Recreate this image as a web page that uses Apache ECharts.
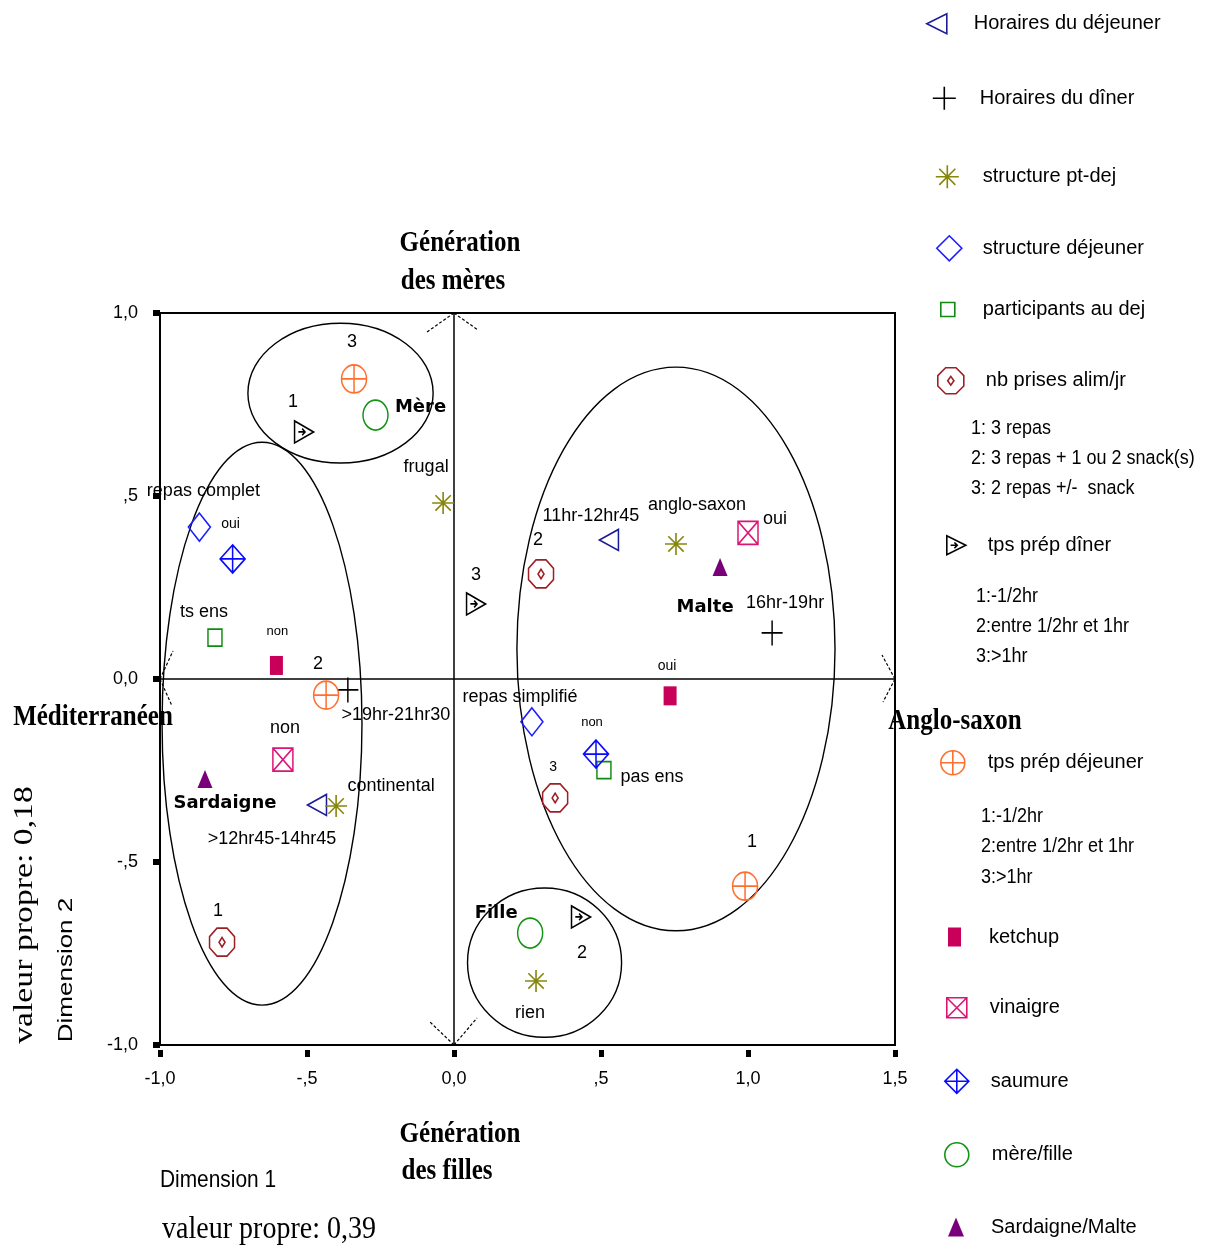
<!DOCTYPE html>
<html><head><meta charset="utf-8">
<script src="https://cdn.jsdelivr.net/npm/echarts@6.0.0/dist/echarts.min.js"></script>
<style>html,body{margin:0;padding:0;background:#fff}#c{width:1220px;height:1250px}</style>
</head><body><div id="c"></div>
<script>
// ---- tick labels ----
const xTickValues = [-1, -0.5, 0, 0.5, 1, 1.5];
const xTickLabels = ['-1,0', '-,5', '0,0', ',5', '1,0', '1,5'];
const yTickValues = [-1, -0.5, 0, 0.5, 1];
const yTickLabels = ['-1,0', '-,5', '0,0', ',5', '1,0'];

// ---- category coordinates: [label, dimension 1, dimension 2] ----
const horairesDejeuner = [['11hr-12hr45', 0.527, 0.380], ['>12hr45-14hr45', -0.466, -0.344]];
const horairesDiner = [['16hr-19hr', 1.082, 0.126], ['>19hr-21hr30', -0.361, -0.030]];
const structurePtDej = [['frugal', -0.037, 0.481], ['anglo-saxon', 0.755, 0.369], ['continental', -0.401, -0.347], ['rien', 0.279, -0.825]];
const structureDejeuner = [['repas complet', -0.866, 0.415], ['repas simplifié', 0.265, -0.117]];
const participantsDej = [['ts ens', -0.813, 0.113], ['pas ens', 0.510, -0.249]];
const nbPrises = [['1', -0.789, -0.719], ['2', 0.296, 0.287], ['3', 0.344, -0.325]];
const tpsPrepDiner = [['1', -0.510, 0.675], ['3', 0.075, 0.205], ['2', 0.432, -0.650]];
const tpsPrepDejeuner = [['3', -0.340, 0.820], ['2', -0.435, -0.044], ['1', 0.990, -0.566]];
const ketchup = [['non', -0.604, 0.037], ['oui', 0.735, -0.046]];
const vinaigre = [['non', -0.582, -0.220], ['oui', 1.000, 0.399]];
const saumure = [['oui', -0.753, 0.328], ['non', 0.483, -0.205]];
const mereFille = [['Mère', -0.267, 0.721], ['Fille', 0.259, -0.694]];
const sardaigneMalte = [['Sardaigne', -0.847, -0.273], ['Malte', 0.905, 0.306]];
// group ellipses: [centre dim1, centre dim2, radius dim1, radius dim2]
const groupEllipses = [[-0.386, 0.781, 0.315, 0.191], [-0.653, -0.122, 0.340, 0.769], [0.755, 0.082, 0.541, 0.770], [0.308, -0.775, 0.262, 0.204]];
// legend notes
const nbPrisesNotes = ['1: 3 repas', '2: 3 repas + 1 ou 2 snack(s)', '3: 2 repas +/-  snack'];
const tpsPrepNotes = ['1:-1/2hr', '2:entre 1/2hr et 1hr', '3:>1hr'];

// ---- styles / layout ----
const SANS = '"Liberation Sans", Arial, sans-serif';
const SERIF = '"Liberation Serif", "Times New Roman", serif';
const BOLDF = '"DejaVu Sans", sans-serif';
const SYM = {
  triLeft: 'path://M0,5L10,0L10,10Z',
  plus: 'path://M0,5L10,5M5,0L5,10',
  aster: 'path://M5,0L5,10M0,5L10,5M1.5,1.5L8.5,8.5M8.5,1.5L1.5,8.5',
  diamond: 'path://M5,0L10,5L5,10L0,5Z',
  square: 'path://M0,0L10,0L10,10L0,10Z',
  octDiamond: 'path://M3,0L7,0L10,3L10,7L7,10L3,10L0,7L0,3Z M5,3.3L6.2,5L5,6.7L3.8,5Z',
  triRight: 'path://M0,0L0,10L10,5Z M2,5L5.5,5 M4,3.5L5.5,5L4,6.5',
  circleCross: 'path://M0,5A5,5,0,1,1,10,5A5,5,0,1,1,0,5Z M0,5L10,5M5,0L5,10',
  squareX: 'path://M0,0L10,0L10,10L0,10Z M0,0L10,10M10,0L0,10',
  diamondCross: 'path://M5,0L10,5L5,10L0,5Z M0,5L10,5M5,0L5,10',
  ellipse: 'path://M0,5A5,5,0,1,1,10,5A5,5,0,1,1,0,5Z'
};
const seriesDefs = [
  {name: 'Horaires du déjeuner', data: horairesDejeuner, symbol: SYM.triLeft, size: [19, 21], lsize: [20, 24], color: '#1c1c9a', outline: true, legend: [936, 25, 973]},
  {name: 'Horaires du dîner', data: horairesDiner, symbol: SYM.plus, size: [21, 25], lsize: [23, 24], color: '#000000', outline: true, legend: [943.5, 98, 979]},
  {name: 'structure pt-dej', data: structurePtDej, symbol: SYM.aster, size: [22, 22], lsize: [23, 25], color: '#86860c', outline: true, legend: [946.5, 177, 982]},
  {name: 'structure déjeuner', data: structureDejeuner, symbol: SYM.diamond, size: [22, 28], lsize: [25, 28], color: '#1e1eff', outline: true, legend: [948.5, 249, 982]},
  {name: 'participants au dej', data: participantsDej, symbol: SYM.square, size: [14, 17], lsize: [14, 17], color: '#118a11', outline: true, legend: [947, 308, 982]},
  {name: 'nb prises alim/jr', data: nbPrises, symbol: SYM.octDiamond, size: [25, 28], lsize: [26, 30], color: '#9c2024', outline: true, legend: [950, 382, 985]},
  {name: 'tps prép dîner', data: tpsPrepDiner, symbol: SYM.triRight, size: [19, 22], lsize: [19, 22], color: '#000000', outline: true, legend: [955.5, 546, 987]},
  {name: 'tps prép déjeuner', data: tpsPrepDejeuner, symbol: SYM.circleCross, size: [25, 28], lsize: [24, 31], color: '#ff7030', outline: true, legend: [952, 765.5, 987]},
  {name: 'ketchup', data: ketchup, symbol: 'rect', size: [13, 19], lsize: [13, 19], color: '#c8005a', outline: false, legend: [954.5, 936.5, 989]},
  {name: 'vinaigre', data: vinaigre, symbol: SYM.squareX, size: [20, 23], lsize: [20, 22], color: '#dc1476', outline: true, legend: [956, 1008, 989]},
  {name: 'saumure', data: saumure, symbol: SYM.diamondCross, size: [25, 28], lsize: [24, 29], color: '#0a0aff', outline: true, legend: [956, 1083, 990]},
  {name: 'mère/fille', data: mereFille, symbol: SYM.ellipse, size: [25, 30], lsize: [24, 26], color: '#149414', outline: true, legend: [956, 1155, 991], bold: true},
  {name: 'Sardaigne/Malte', data: sardaigneMalte, symbol: 'triangle', size: [15, 18], lsize: [16, 19], color: '#7a007a', outline: false, legend: [956, 1226.5, 991], bold: true}
];
// label offsets (px from marker centre) and optional font size
const labelLayout = {
  'Horaires du déjeuner': [[-18, -24], [-45, 34]],
  'Horaires du dîner': [[13, -30], [48, 25]],
  'structure pt-dej': [[-17, -36], [21, -39], [55, -20], [-6, 32]],
  'structure déjeuner': [[4, -36], [-12, -25]],
  'participants au dej': [[-11, -26], [48, 7]],
  'nb prises alim/jr': [[-4, -31], [-3, -34], [-2, -31, 14]],
  'tps prép dîner': [[-11, -30], [0, -29], [1, 36]],
  'tps prép déjeuner': [[-2, -37], [-8, -31], [7, -44]],
  'ketchup': [[1, -34, 13], [-3, -30, 14]],
  'vinaigre': [[2, -31], [27, -14]],
  'saumure': [[-2, -35, 14], [-4, -32, 13]],
  'mère/fille': [[45, -8], [-34, -20]],
  'Sardaigne/Malte': [[20, 24], [-15, 40]]
};

function tickFmt(values, labels) {
  return v => { const i = values.findIndex(t => Math.abs(t - v) < 1e-9); return i >= 0 ? labels[i] : ''; };
}

const scatterSeries = seriesDefs.map(d => ({
  type: 'scatter', name: d.name, z: 5,
  symbol: d.symbol, symbolSize: d.size,
  itemStyle: d.outline ? {color: 'rgba(0,0,0,0)', borderColor: d.color, borderWidth: 1.6, opacity: 1} : {color: d.color, borderWidth: 0, opacity: 1},
  label: {show: true, position: 'inside', formatter: '{b}', color: '#000', opacity: 1, fontFamily: d.bold ? BOLDF : SANS, fontSize: 18, textBorderWidth: 0},
  emphasis: {disabled: true},
  data: d.data.map((p, i) => {
    const lo = labelLayout[d.name][i];
    return {name: p[0], value: [p[1], p[2]],
      label: {offset: [lo[0], lo[1]], fontSize: lo[2] || 18, fontWeight: d.bold ? 'bold' : 'normal'}};
  })
}));

const legends = seriesDefs.map(d => {
  const [cx, cy, tx] = d.legend; const [w, h] = d.lsize;
  const left = cx - w / 2, top = cy - h / 2;
  const pad = Math.max(0, tx - (left + w + 5));
  return {
    data: [d.name], left: left, top: top, orient: 'vertical', padding: 0,
    itemWidth: w, itemHeight: h, selectedMode: false,
    itemStyle: {borderWidth: d.outline ? 1.6 : 0, opacity: 1},
    formatter: '{t|{name}}',
    textStyle: {color: '#000', fontFamily: SANS, fontSize: 20,
      rich: {t: {padding: [0, 0, 0, pad], color: '#000', fontFamily: SANS, fontSize: 20}}}
  };
});

const notes = [];
nbPrisesNotes.forEach((t, i) => notes.push([t, 971, 428 + i * 30]));
tpsPrepNotes.forEach((t, i) => notes.push([t, 976, 596 + i * 30]));
tpsPrepNotes.forEach((t, i) => notes.push([t, 981, 816 + i * 30.5]));

const graphics = notes.map(n => ({type: 'text', x: n[1], y: n[2], scaleY: 1.15, silent: true,
  style: {text: n[0], font: '18px ' + SANS, fill: '#000', align: 'left', verticalAlign: 'middle'}}));
const titleTexts = [
  ['Génération', 460, 243], ['des mères', 453, 281],
  ['Génération', 460, 1134], ['des filles', 447, 1171],
  ['Méditerranéen', 93, 717], ['Anglo-saxon', 955, 721]
];
titleTexts.forEach(t => graphics.push({type: 'text', x: t[1], y: t[2], scaleY: 1.2, silent: true, z: 10,
  style: {text: t[0], font: 'bold 25px ' + SERIF, fill: '#000', align: 'center', verticalAlign: 'middle'}}));
graphics.push({type: 'text', x: 269, y: 1230, scaleY: 1.15, silent: true,
  style: {text: 'valeur propre: 0,39', font: '28px ' + SERIF, fill: '#000', align: 'center', verticalAlign: 'middle'}});
graphics.push({type: 'text', x: 218, y: 1180, scaleX: 1.1, scaleY: 1.25, silent: true,
  style: {text: 'Dimension 1', font: '19px ' + SANS, fill: '#000', align: 'center', verticalAlign: 'middle'}});
graphics.push({type: 'text', x: 25, y: 915, rotation: Math.PI / 2, scaleX: 1.25, silent: true,
  style: {text: 'valeur propre: 0,18', font: '27px ' + SERIF, fill: '#000', align: 'center', verticalAlign: 'middle'}});
graphics.push({type: 'text', x: 66, y: 970, rotation: Math.PI / 2, scaleX: 1.3, silent: true,
  style: {text: 'Dimension 2', font: '20px ' + SANS, fill: '#000', align: 'center', verticalAlign: 'middle'}});

const xMin = xTickValues[0], xMax = xTickValues[xTickValues.length - 1];
const yMin = yTickValues[0], yMax = yTickValues[yTickValues.length - 1];

const option = {
  animation: false,
  backgroundColor: '#fff',
  grid: {left: 160, top: 313, width: 735, height: 732, show: true, borderColor: '#000', borderWidth: 2, backgroundColor: 'transparent'},
  xAxis: {type: 'value', min: xMin, max: xMax, interval: 0.5,
    axisLine: {show: true, onZero: false, lineStyle: {color: '#000', width: 2}},
    axisTick: {show: true, length: 12, lineStyle: {color: '#000', width: 5, type: [7, 5], dashOffset: 7}},
    axisLabel: {margin: 25, color: '#000', fontFamily: SANS, fontSize: 18, formatter: tickFmt(xTickValues, xTickLabels)},
    splitLine: {show: false}},
  yAxis: {type: 'value', min: yMin, max: yMax, interval: 0.5,
    axisLine: {show: true, onZero: false, lineStyle: {color: '#000', width: 2}},
    axisTick: {show: true, length: 7, lineStyle: {color: '#000', width: 6}},
    axisLabel: {margin: 22, color: '#000', fontFamily: SANS, fontSize: 18, formatter: tickFmt(yTickValues, yTickLabels)},
    splitLine: {show: false}},
  legend: legends,
  graphic: graphics,
  series: [
    {type: 'custom', name: 'axes', silent: true, z: 1, data: [[0, 0]], encode: {x: 0, y: 1},
      renderItem: (params, api) => {
        const L = api.coord([xMin, 0]), R = api.coord([xMax, 0]), T = api.coord([0, yMax]), B = api.coord([0, yMin]);
        const solid = {stroke: '#000', lineWidth: 1.5};
        const dash = {stroke: '#000', lineWidth: 1.2, lineDash: [3, 2]};
        const ln = (a, b, st) => ({type: 'line', shape: {x1: a[0], y1: a[1], x2: b[0], y2: b[1]}, style: st});
        return {type: 'group', children: [
          ln(L, R, solid), ln(T, B, solid),
          ln(T, [T[0] - 27, T[1] + 19], dash), ln(T, [T[0] + 24, T[1] + 17], dash),
          ln(B, [B[0] - 24, B[1] - 23], dash), ln(B, [B[0] + 23, B[1] - 27], dash),
          ln(L, [L[0] + 13, L[1] - 28], dash), ln(L, [L[0] + 12, L[1] + 27], dash),
          ln(R, [R[0] - 13, R[1] - 24], dash), ln(R, [R[0] - 12, R[1] + 23], dash)
        ]};
      }},
    {type: 'custom', name: 'groupes', silent: true, z: 2, data: groupEllipses, encode: {x: 0, y: 1},
      renderItem: (params, api) => {
        const c = api.coord([api.value(0), api.value(1)]);
        const s = api.size([api.value(2), api.value(3)]);
        return {type: 'ellipse', shape: {cx: c[0], cy: c[1], rx: s[0], ry: s[1]},
          style: {fill: 'none', stroke: '#000', lineWidth: 1.4}};
      }}
  ].concat(scatterSeries)
};

const chart = echarts.init(document.getElementById('c'), null, {renderer: 'canvas'});
chart.setOption(option);
</script>
</body></html>
